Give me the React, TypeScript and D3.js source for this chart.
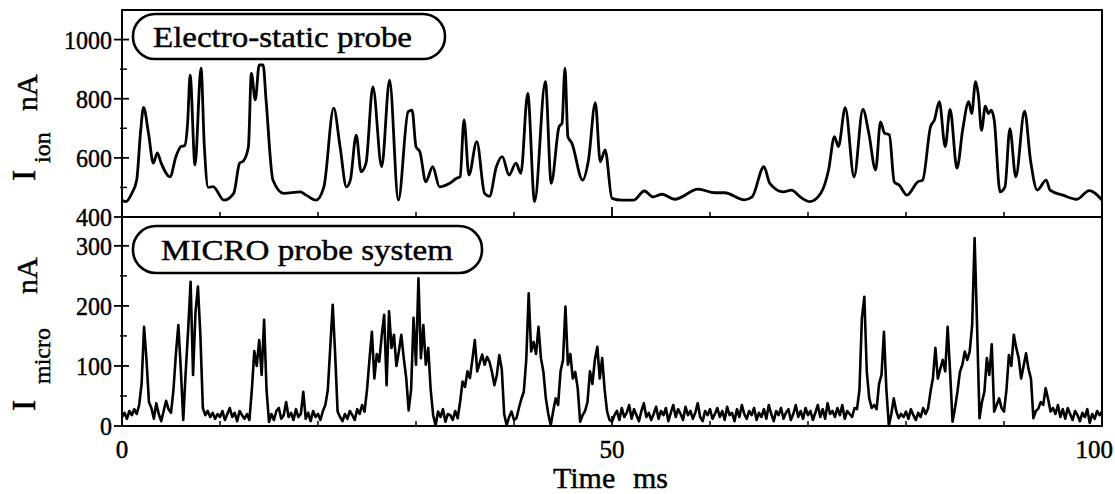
import React from 'react';
import * as d3 from 'd3';

// ---- Data: I_ion (smooth trace) ----
const ionTime = [
  0, 0.4, 1.0, 1.5, 1.9, 2.2, 2.7, 3.2, 3.6, 4.0, 4.9, 5.5, 6.0, 6.4, 6.7, 6.95, 7.45, 8.06, 8.4, 8.8,
  9.3, 10.4, 11.4, 12.0, 12.4, 12.9, 13.2, 13.6, 14.0, 14.4, 14.7, 15.4, 16.5, 18.2, 18.8, 19.8, 20.6, 21.6, 22.25, 22.9,
  23.3, 23.9, 24.4, 24.9, 25.6, 26.5, 27.3, 28.2, 29.2, 29.6, 30.0, 30.4, 31.0, 31.7, 32.4, 33.4, 34.1, 34.5, 34.9, 35.4,
  36.2, 37.0, 37.5, 38.2, 38.8, 39.5, 40.2, 40.7, 41.4, 42.1, 43.2, 43.8, 44.6, 44.9, 45.2, 45.5, 45.9, 47.0, 47.6, 48.3,
  48.8, 49.3, 50.0, 51.0, 52.2, 53.3, 54.2, 55.1, 56.4, 58.8, 60.5, 61.5, 63.5, 64.3, 65.5, 66.1, 67.5, 68.3, 69.2, 70.2,
  71.3, 72.1, 72.7, 73.1, 73.8, 74.7, 75.6, 76.2, 76.9, 77.4, 77.8, 78.3, 78.8, 79.3, 80.1, 81.2, 81.7, 82.5, 82.9, 83.4,
  84.0, 84.5, 85.2, 85.8, 86.4, 86.7, 87.1, 87.4, 87.7, 88.1, 88.4, 88.7, 89.0, 89.6, 90.1, 90.6, 91.2, 92.1, 92.7, 93.4,
  94.3, 94.7, 96.0, 97.4, 98.7, 100
];
const ionValue = [
  457, 452, 480, 525, 690, 771, 684, 582, 617, 582, 536, 604, 638, 642, 720, 880, 576, 903, 640, 500,
  503, 457, 480, 582, 590, 638, 886, 796, 914, 914, 796, 525, 480, 485, 474, 457, 502, 768, 638, 502,
  525, 677, 553, 582, 840, 570, 863, 457, 756, 761, 638, 620, 519, 570, 502, 513, 530, 536, 728, 542,
  655, 480, 470, 570, 604, 542, 582, 548, 818, 452, 858, 514, 705, 717, 903, 672, 650, 525, 593, 787,
  587, 627, 463, 457, 457, 488, 468, 477, 460, 494, 482, 482, 458, 468, 570, 514, 485, 491, 468, 452,
  480, 559, 672, 638, 770, 536, 764, 684, 559, 722, 684, 678, 519, 508, 474, 519, 525, 705, 728, 790,
  638, 764, 565, 699, 790, 750, 858, 807, 693, 775, 750, 761, 728, 485, 502, 699, 536, 758, 593, 491,
  525, 491, 474, 460, 489, 457
];

// ---- Data: I_micro (noisy trace), sampled every 0.25 ms from 0 to 100 ----
const microStart = 0;
const microStep = 0.25;
const microValue = [
  15, 22, 12, 25, 18, 28, 20, 35, 70, 165, 110, 40, 30, 12, 38, 20, 8, 25, 42, 28,
  22, 60, 120, 168, 95, 10, 90, 160, 240, 85, 190, 232, 150, 30, 18, 25, 15, 22, 12, 20,
  15, 25, 10, 20, 30, 15, 22, 8, 25, 18, 12, 20, 10, 60, 125, 100, 143, 85, 177, 60,
  7, 20, 10, 25, 30, 12, 18, 40, 15, 22, 10, 28, 15, 20, 57, 12, 22, 8, 25, 15,
  20, 10, 25, 35, 60, 130, 202, 120, 24, 15, 8, 20, 12, 25, 18, 10, 28, 20, 35, 24,
  60, 110, 157, 79, 120, 107, 150, 185, 68, 191, 130, 152, 100, 124, 152, 113, 80, 26, 60, 180,
  102, 246, 113, 168, 102, 130, 60, 18, 1, 24, 15, 28, 7, 20, 18, 10, 25, 13, 40, 74,
  65, 91, 80, 110, 143, 91, 105, 119, 102, 115, 107, 90, 68, 85, 118, 95, 20, 1, 15, 24,
  10, 13, 30, 45, 57, 110, 221, 124, 140, 120, 165, 113, 90, 46, 20, 1, 25, 46, 35, 91,
  110, 199, 102, 120, 79, 90, 63, 7, 18, 25, 40, 91, 70, 110, 132, 79, 113, 60, 24, 10,
  7, 18, 25, 10, 30, 15, 22, 35, 12, 28, 18, 8, 25, 38, 15, 22, 10, 20, 32, 12,
  25, 18, 30, 8, 22, 35, 15, 28, 20, 10, 32, 18, 25, 12, 22, 38, 15, 8, 25, 18,
  28, 12, 20, 30, 15, 25, 10, 32, 18, 22, 8, 28, 15, 35, 20, 12, 25, 18, 30, 10,
  22, 15, 28, 12, 35, 20, 8, 25, 18, 30, 12, 22, 28, 10, 20, 35, 15, 25, 12, 30,
  18, 25, 10, 22, 35, 15, 28, 12, 38, 20, 25, 15, 30, 18, 35, 12, 25, 20, 15, 30,
  28, 60, 180, 215, 90, 46, 30, 35, 28, 70, 85, 157, 60, 1, 20, 46, 25, 13, 20, 15,
  24, 12, 28, 18, 10, 22, 15, 30, 20, 29, 57, 80, 130, 79, 95, 110, 91, 165, 90, 7,
  30, 57, 90, 102, 124, 110, 124, 168, 313, 168, 13, 40, 57, 113, 85, 136, 24, 35, 46, 30,
  24, 60, 118, 100, 152, 130, 113, 79, 100, 121, 95, 79, 13, 25, 29, 40, 35, 63, 45, 24,
  30, 20, 35, 15, 28, 12, 30, 20, 10, 25, 18, 8, 22, 15, 28, 5, 20, 12, 25, 18,
  24
];

// ---- Axis ticks ----
const xMajorTicks = [0, 50, 100];
const xMinorTicks = [10, 20, 30, 40, 60, 70, 80, 90];
const ionMajorTicks = [400, 600, 800, 1000];
const ionMinorTicks = [500, 700, 900];
const microMajorTicks = [0, 100, 200, 300];
const microMinorTicks = [50, 150, 250];

const FONT = '"Liberation Serif", "Times New Roman", Times, serif';
const TXT = { fontFamily: FONT, fill: '#000', stroke: '#000', strokeWidth: 0.45 } as const;

export default function App() {
  const W = 1115, H = 494;
  const L = 122, R = 1102, T = 10, MID = 217, B = 426;

  const x = d3.scaleLinear().domain([0, 100]).range([L, R]);
  const yIon = d3.scaleLinear().domain([400, 1100]).range([MID, T]);
  const yMic = d3.scaleLinear().domain([0, 348]).range([B, MID]);

  const ionPath = d3
    .line<number>()
    .x((_, i) => x(ionTime[i]))
    .y((d) => yIon(d))
    .curve(d3.curveMonotoneX)(ionValue) || '';

  const micPath = d3
    .line<number>()
    .x((_, i) => x(microStart + i * microStep))
    .y((d) => yMic(d))(microValue) || '';

  const yTickText = (v: number, y: number, key: string) => {
    const s = String(v);
    return (
      <text key={key} x={112} y={y} dy="0.36em" textAnchor="end" {...TXT} fontSize={26}
        textLength={s.length * 12} lengthAdjust="spacingAndGlyphs">{s}</text>
    );
  };

  return (
    <svg width={W} height={H} style={{ position: 'absolute', left: 0, top: 0, background: '#fff' }}>
      <defs>
        <clipPath id="clipTop"><rect x={L} y={T} width={R - L} height={MID - T} /></clipPath>
        <clipPath id="clipBot"><rect x={L} y={MID} width={R - L} height={B - MID} /></clipPath>
      </defs>

      {/* data */}
      <path d={ionPath} fill="none" stroke="#000" strokeWidth={2.8} strokeLinejoin="round" clipPath="url(#clipTop)" />
      <path d={micPath} fill="none" stroke="#000" strokeWidth={2.6} strokeLinejoin="round" clipPath="url(#clipBot)" />

      {/* frame */}
      <rect x={L} y={T} width={R - L} height={B - T} fill="none" stroke="#000" strokeWidth={2} />
      <line x1={L} x2={R} y1={MID} y2={MID} stroke="#000" strokeWidth={2} />

      {/* y ticks top */}
      {ionMajorTicks.map((v) => (
        <g key={'im' + v}>
          <line x1={L - 8} x2={L + 7} y1={yIon(v)} y2={yIon(v)} stroke="#000" strokeWidth={1.8} />
          {yTickText(v, yIon(v), 'imt' + v)}
        </g>
      ))}
      {ionMinorTicks.map((v) => (
        <line key={'in' + v} x1={L - 2} x2={L + 5} y1={yIon(v)} y2={yIon(v)} stroke="#000" strokeWidth={1.5} />
      ))}

      {/* y ticks bottom */}
      {microMajorTicks.map((v) => (
        <g key={'mm' + v}>
          <line x1={L - 8} x2={L + 7} y1={yMic(v)} y2={yMic(v)} stroke="#000" strokeWidth={1.8} />
          {yTickText(v, yMic(v), 'mmt' + v)}
        </g>
      ))}
      {microMinorTicks.map((v) => (
        <line key={'mn' + v} x1={L - 2} x2={L + 5} y1={yMic(v)} y2={yMic(v)} stroke="#000" strokeWidth={1.5} />
      ))}

      {/* x ticks on divider and bottom axis */}
      {[MID, B].map((yy) => (
        <g key={'xt' + yy}>
          {xMajorTicks.map((t) => (
            <line key={t} x1={x(t)} x2={x(t)} y1={yy} y2={yy - 10} stroke="#000" strokeWidth={1.8} />
          ))}
          {xMinorTicks.map((t) => (
            <line key={t} x1={x(t)} x2={x(t)} y1={yy} y2={yy - 5} stroke="#000" strokeWidth={1.5} />
          ))}
        </g>
      ))}
      {xMajorTicks.map((t, i) => (
        <text key={'xl' + t}
          x={i === xMajorTicks.length - 1 ? 1113 : x(t)}
          y={458}
          textAnchor={i === xMajorTicks.length - 1 ? 'end' : 'middle'}
          {...TXT} fontSize={25}>{t}</text>
      ))}

      {/* x title */}
      <text x={553} y={488} {...TXT} fontSize={30}>Time</text>
      <text x={668} y={488} textAnchor="end" {...TXT} fontSize={30}>ms</text>

      {/* panel labels */}
      <rect x={133} y={14} width={312} height={45} rx={22} ry={22} fill="#fff" stroke="#000" strokeWidth={2.6} />
      <text x={153} y={47} {...TXT} fontSize={30} textLength={259} lengthAdjust="spacingAndGlyphs">Electro-static probe</text>
      <rect x={133} y={226} width={349} height={47} rx={23} ry={23} fill="#fff" stroke="#000" strokeWidth={2.6} />
      <text x={161} y={260} {...TXT} fontSize={30} textLength={292} lengthAdjust="spacingAndGlyphs">MICRO probe system</text>

      {/* y titles */}
      <text transform="translate(35,181) rotate(-90)" {...TXT} fontSize={34}>I</text>
      <text transform="translate(50,163) rotate(-90)" {...TXT} fontSize={24}>ion</text>
      <text transform="translate(37,111) rotate(-90)" {...TXT} fontSize={30}>nA</text>

      <text transform="translate(35,411) rotate(-90)" {...TXT} fontSize={34}>I</text>
      <text transform="translate(50,384) rotate(-90)" {...TXT} fontSize={24}>micro</text>
      <text transform="translate(37,294) rotate(-90)" {...TXT} fontSize={30}>nA</text>
    </svg>
  );
}
